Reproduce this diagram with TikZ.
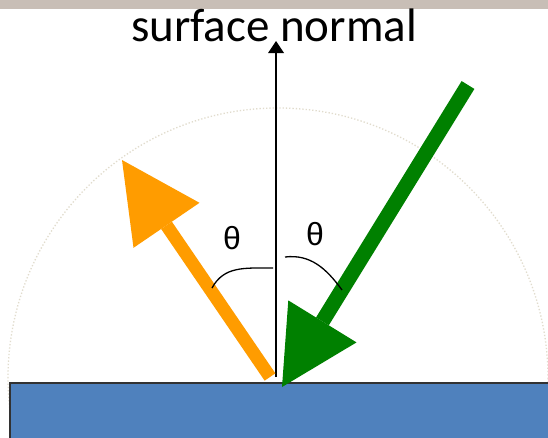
\documentclass[tikz,border=0pt]{standalone}
\usepackage{fontspec}
\setmainfont{Carlito}
\newfontfamily\thetafont{Liberation Sans}
\definecolor{strip}{RGB}{200,190,182}
\definecolor{surf}{RGB}{79,129,189}
\definecolor{surfedge}{RGB}{50,50,50}
\definecolor{refl}{RGB}{255,156,0}
\definecolor{inc}{RGB}{0,128,0}
\definecolor{dome}{RGB}{225,220,205}
\tikzset{
  shaft/.style={line width=#1, line cap=butt},
  label/.style={inner sep=0pt, font=\fontsize{47}{50}\selectfont},
  anglab/.style={inner sep=0pt, font=\thetafont\fontsize{32}{34}\selectfont},
  angmark/.style={line width=1.3pt, black},
}
\begin{document}
\begin{tikzpicture}[x=1pt,y=-1pt]
\useasboundingbox (0,0) rectangle (548,437);
\begin{scope}
\clip (0,0) rectangle (548,437);
% background
\fill[white] (0,0) rectangle (548,437);
\fill[strip] (0,0) rectangle (548,9);
% dotted dome
\coordinate (ctr) at (278,378);
\draw[dome, line width=1.3pt, dotted] (ctr) circle[radius=270];
% surface
\draw[surfedge, fill=surf, line width=1.5pt] (10,383) rectangle (560,450);
% surface normal
\coordinate (nb) at (276,377);
\coordinate (nh) at (276,52);
\coordinate (nt) at (276,41);
\draw[line width=2pt] (nb) -- (nh);
\fill (nt) -- (268,53) -- (284,53) -- cycle;
\node[label, anchor=base] (lab) at (274,41) {surface normal};
% reflected (orange) ray
\coordinate (ot) at (270,377);
\coordinate (ob) at (166.5,225.3);
\coordinate (op) at (122,160);
\draw[refl, shaft=13pt] (ot) -- (ob);
\fill[refl] (op) -- (199.5,202.8) -- (133.5,247.8) -- cycle;
% incident (green) ray
\coordinate (gt) at (468,85);
\coordinate (gb) at (322.4,321.4);
\coordinate (gp) at (282,387);
\draw[inc, shaft=15pt] (gt) -- (gb);
\fill[inc] (gp) -- (356.5,342.4) -- (288.3,300.4) -- cycle;
% angle marks
\draw[angmark] (212,288) .. controls (224,266) and (244,268) .. (273,268);
\draw[angmark] (285,257) .. controls (310,254) and (326,268) .. (342,290);
\node[anglab] (th1) at (232,238) {θ};
\node[anglab] (th2) at (315,234) {θ};
\end{scope}
\end{tikzpicture}
\end{document}
